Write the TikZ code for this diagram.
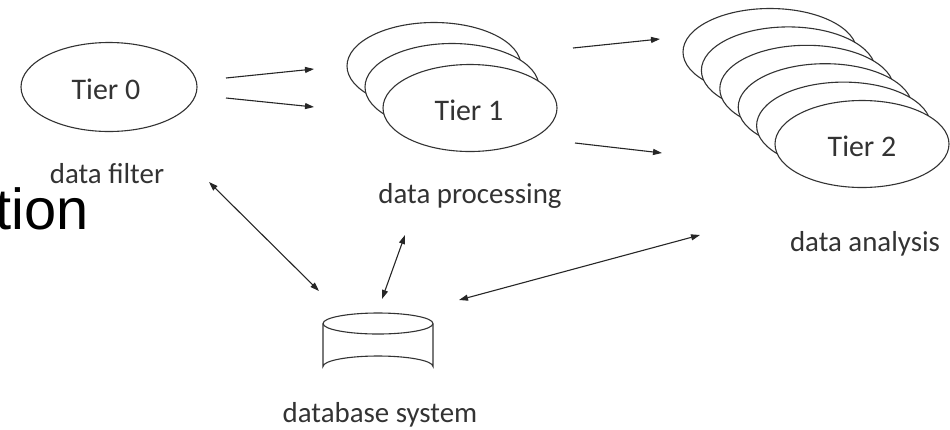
\documentclass[tikz,border=0pt]{standalone}
\usepackage{fontspec}
\setmainfont{Carlito}
\newfontfamily\arialfont{Liberation Sans}
\usetikzlibrary{arrows.meta,shapes.geometric}
\begin{document}
\begin{tikzpicture}[x=1bp,y=-1bp,
  tier/.style={ellipse,draw=black!80,line width=1.1bp,fill=white,minimum width=174bp,minimum height=87bp,inner sep=0pt},
  lbl/.style={font=\fontsize{29}{32}\selectfont,text=black!80,inner sep=0pt},
  tierlbl/.style={font=\fontsize{30}{33}\selectfont,text=black!80,inner sep=0pt},
  arr/.style={line width=1.1bp,draw=black!85,-{Triangle[length=9bp,width=6bp]}},
  darr/.style={line width=1.1bp,draw=black!85,{Triangle[length=9bp,width=6bp]}-{Triangle[length=9bp,width=6bp]}}]
\useasboundingbox (0,0) rectangle (950,429);
% Tier 0
\node[tier,minimum width=176bp,minimum height=89bp] (t0) at (109,87) {};
\node[tierlbl] (t0l) at (106,89) {Tier 0};
\node[lbl] (dfl) at (107,174) {data filter};
% Tier 1
\node[tier] (t1c) at (434,66) {};
\node[tier] (t1b) at (452,87) {};
\node[tier] (t1) at (470,108) {};
\node[tierlbl] (t1l) at (469,110) {Tier 1};
\node[lbl] (dpl) at (470,196) {data processing};
% Tier 2
\node[tier] (t2f) at (770,52) {};
\node[tier] (t2e) at (788.4,70.4) {};
\node[tier] (t2d) at (806.8,88.8) {};
\node[tier] (t2c) at (825.2,107.2) {};
\node[tier] (t2b) at (843.6,125.6) {};
\node[tier] (t2) at (862,144) {};
\node[tierlbl] (t2l) at (862,146) {Tier 2};
\node[lbl] (dal) at (865,244) {data analysis};
% database
\coordinate (dbtop) at (378,323.5);
\draw[line width=1.1bp,draw=black!80,fill=white] (323,323.5) -- (323,366.5) arc[start angle=180,end angle=360,x radius=55,y radius=10.5] -- (433,323.5);
\draw[line width=1.1bp,draw=black!80,fill=white] (dbtop) ellipse[x radius=55,y radius=10.5];
\node[inner sep=0pt,minimum width=110bp,minimum height=64bp] (db) at (378,345) {};
\node[lbl] (dbl) at (380,415) {database system};
% big cut-off text
\node[font=\arialfont\fontsize{58}{60}\selectfont,anchor=base east,inner sep=0pt] (tion) at (89,229) {tion};
% arrow endpoints
\coordinate (a1s) at (226,78); \coordinate (a1e) at (314,69);
\coordinate (a2s) at (226,98); \coordinate (a2e) at (314,107);
\coordinate (a3s) at (573,48); \coordinate (a3e) at (660,39);
\coordinate (a4s) at (575,143); \coordinate (a4e) at (662,153);
\coordinate (b1s) at (209,182); \coordinate (b1e) at (319,291);
\coordinate (b2s) at (405,235); \coordinate (b2e) at (382,299);
\coordinate (b3s) at (700,235); \coordinate (b3e) at (459,300);
\draw[arr] (a1s) -- (a1e);
\draw[arr] (a2s) -- (a2e);
\draw[arr] (a3s) -- (a3e);
\draw[arr] (a4s) -- (a4e);
\draw[darr] (b1s) -- (b1e);
\draw[darr] (b2s) -- (b2e);
\draw[darr] (b3s) -- (b3e);
\end{tikzpicture}
\end{document}
